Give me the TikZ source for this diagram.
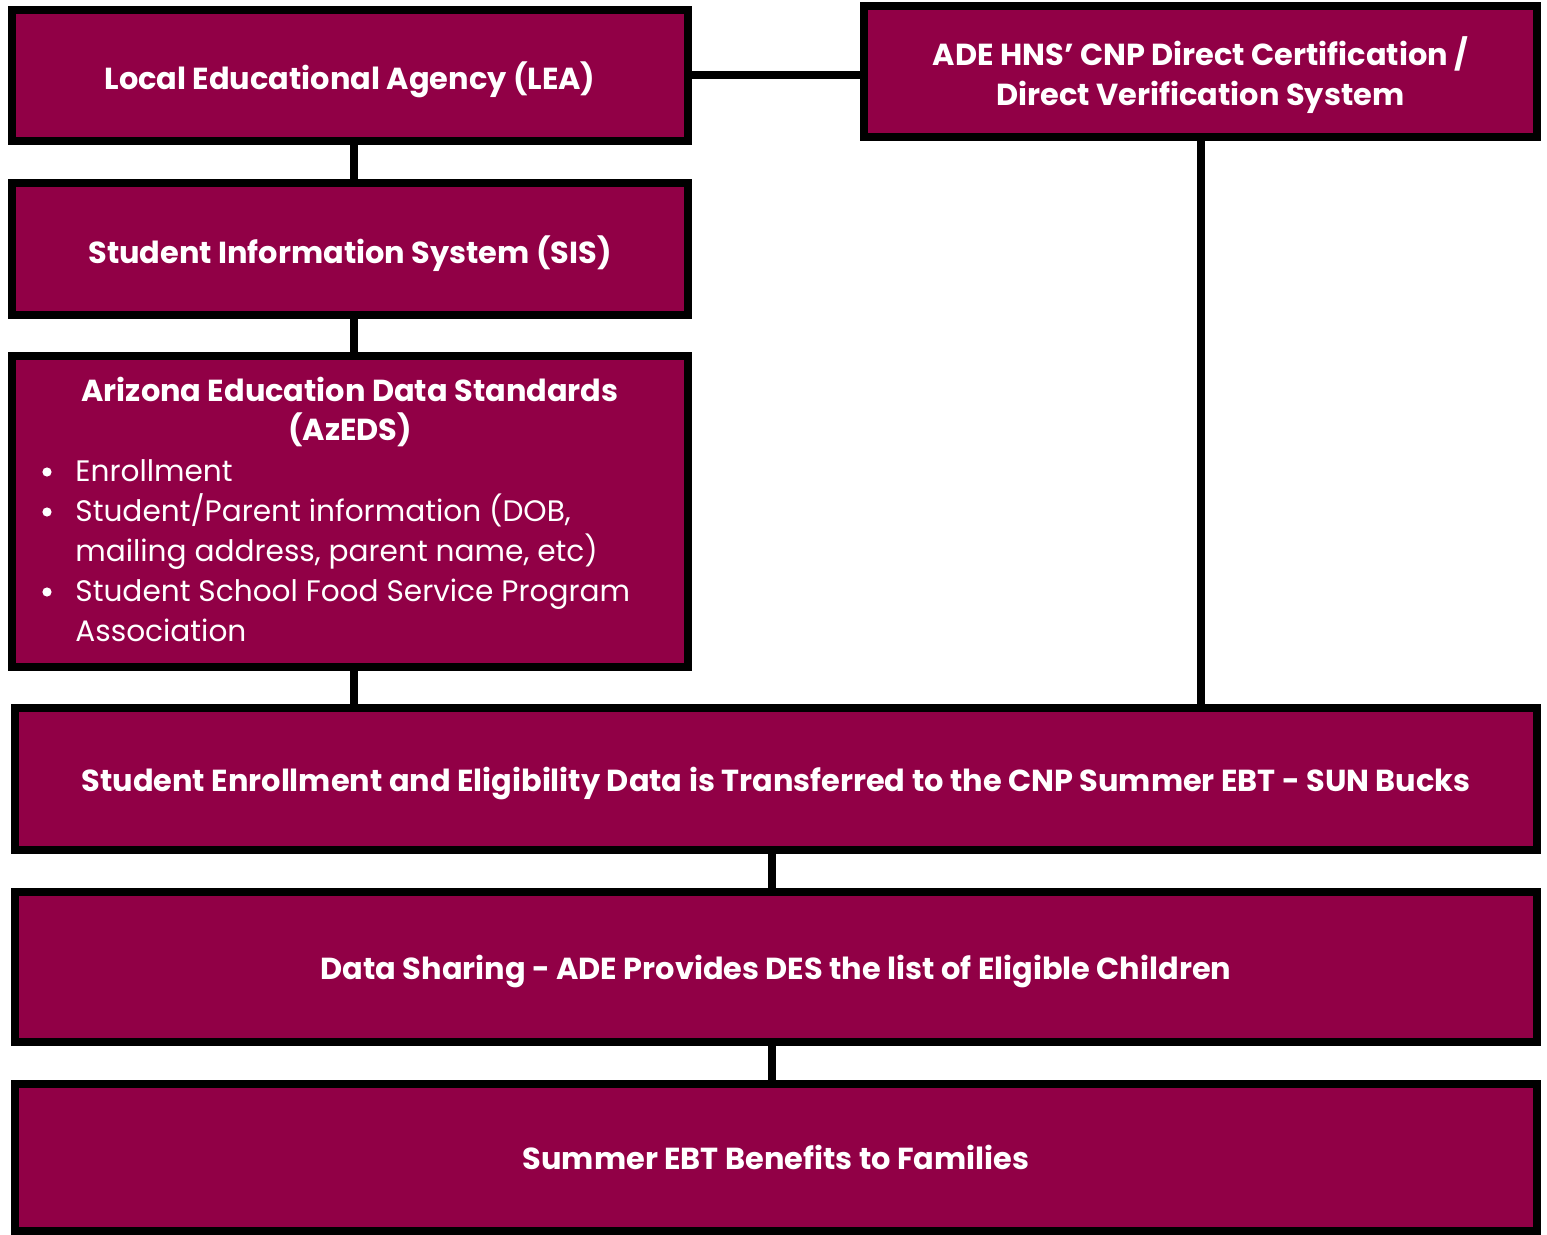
\documentclass[tikz,border=0pt]{standalone}
\usepackage{fontspec}
\setmainfont{Poppins}
\usetikzlibrary{calc}
\definecolor{maroon}{RGB}{145,0,70}
\begin{document}
\begin{tikzpicture}[x=0.5pt,y=-0.5pt,
  box/.style={draw=black,line width=4pt,fill=maroon,inner sep=0pt,outer sep=0pt,
    text=white,font=\fontsize{15.2}{20}\selectfont\bfseries,align=center,text depth=0pt},
  conn/.style={draw=black,line width=4pt},
  btxt/.style={text=white,font=\fontsize{14.8}{20}\selectfont,anchor=base west,inner sep=0pt},
  ttxt/.style={text=white,font=\fontsize{15.2}{20}\selectfont\bfseries,anchor=base,inner sep=0pt}]
\useasboundingbox (0,0) rectangle (1547,1235);
\node[box,minimum width=338pt,minimum height=65.5pt] (LEA) at (350,75.5) {Local Educational Agency (LEA)};
\node[box,minimum width=336.5pt,minimum height=65.5pt] (ADE) at (1200.5,71.5) {ADE HNS’ CNP Direct Certification /\\Direct Verification System};
\node[box,minimum width=338pt,minimum height=65.75pt] (SIS) at (350,249.25) {Student Information System (SIS)};
\node[box,minimum width=338pt,minimum height=155.25pt] (AZ) at (350,511.25) {};
\node[box,minimum width=761pt,minimum height=71pt] (B1) at (776,779) {Student Enrollment and Eligibility Data is Transferred to the CNP Summer EBT - SUN Bucks};
\node[box,minimum width=761pt,minimum height=75pt] (B2) at (776,967) {Data Sharing - ADE Provides DES the list of Eligible Children};
\node[box,minimum width=761pt,minimum height=73.5pt] (B3) at (776,1157.5) {Summer EBT Benefits to Families};
% AzEDS content
\node[ttxt] (AZt1) at (350,401) {Arizona Education Data Standards};
\node[ttxt] (AZt2) at (350,441) {(AzEDS)};
\node[btxt] (AZb1) at (75,481) {Enrollment};
\node[btxt] (AZb2) at (75,521) {Student/Parent information (DOB,};
\node[btxt] (AZb2b) at (75,561) {mailing address, parent name, etc)};
\node[btxt] (AZb3) at (75,601) {Student School Food Service Program};
\node[btxt] (AZb3b) at (75,641) {Association};
\foreach \yy in {472,512,592}{
  \fill[white] (47,\yy) circle (2.3pt);
}
% connectors
\draw[conn] (LEA.east) -- (LEA.east -| ADE.west);
\draw[conn] ([xshift=2pt]LEA.south) -- ([xshift=2pt]SIS.north);
\draw[conn] ([xshift=2pt]SIS.south) -- ([xshift=2pt]AZ.north);
\draw[conn] ([xshift=2pt]AZ.south) -- ([xshift=2pt]AZ.south |- B1.north);
\draw[conn] (ADE.south) -- (ADE.south |- B1.north);
\draw[conn] ([xshift=-2pt]B1.south) -- ([xshift=-2pt]B2.north);
\draw[conn] ([xshift=-2pt]B2.south) -- ([xshift=-2pt]B3.north);
\end{tikzpicture}
\end{document}
